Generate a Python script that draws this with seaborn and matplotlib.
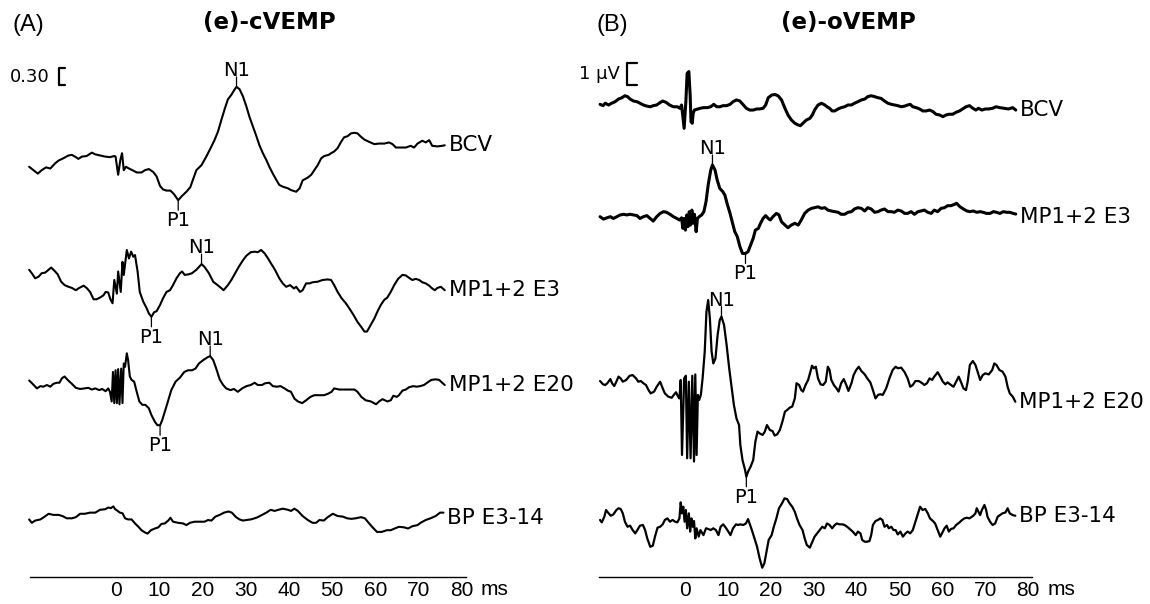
import numpy as np
import pandas as pd
import matplotlib
matplotlib.use("Agg")
import matplotlib.pyplot as plt
import seaborn as sns

# ---------------- data: (time ms, amplitude) ----------------
# Panel A (cVEMP, amplitude in scale-bar units, bar = 0.30)
A_BCV = [(-20.1,-0.12),(-19.1,-0.18),(-18.1,-0.24),(-17.2,-0.18),(-16.2,-0.13),(-15.2,-0.15),(-14.1,-0.06),(-13.3,-0.01),
         (-12.2,0.03),(-11.0,0.08),(-10.2,0.09),(-9.5,0.06),(-8.7,0.02),(-7.9,0.06),(-6.8,0.07),(-5.6,0.13),(-4.8,0.10),
         (-3.7,0.08),(-2.5,0.06),(-1.4,0.05),(-0.4,0.07),(-0.1,0.06),(0.5,-0.26),(1.0,0.0),(1.4,0.12),(1.8,-0.18),(2.3,-0.12),
         (3.0,-0.15),(3.8,-0.18),(4.8,-0.22),(5.9,-0.22),(6.7,-0.18),(7.6,-0.16),(8.6,-0.21),(9.4,-0.29),(10.2,-0.46),
         (10.9,-0.52),(11.7,-0.54),(12.6,-0.54),(13.4,-0.60),(14.4,-0.71),(15.2,-0.64),(16.3,-0.56),(17.2,-0.48),(17.8,-0.35),
         (18.6,-0.18),(19.8,-0.09),(20.9,0.06),(21.7,0.18),(22.8,0.35),(23.6,0.50),(24.4,0.71),(25.2,0.91),(25.9,1.07),
         (26.7,1.15),(27.5,1.25),(27.9,1.29),(28.6,1.25),(29.4,1.12),(30.2,0.94),(30.9,0.76),(31.7,0.59),(32.5,0.42),
         (33.2,0.26),(34.0,0.12),(34.8,0.0),(35.5,-0.12),(36.3,-0.24),(37.1,-0.35),(37.8,-0.44),(38.6,-0.47),(39.8,-0.50),
         (40.5,-0.53),(41.7,-0.56),(42.5,-0.50),(43.2,-0.36),(44.4,-0.31),(45.2,-0.26),(45.9,-0.18),(46.7,-0.09),(47.5,0.03),
         (48.2,0.07),(49.2,0.09),(49.8,0.12),(50.5,0.15),(51.3,0.21),(52.1,0.32),(52.8,0.40),(53.6,0.42),(54.4,0.47),
         (55.2,0.48),(55.9,0.47),(56.7,0.41),(57.5,0.36),(58.6,0.32),(59.8,0.28),(60.9,0.29),(62.1,0.29),(63.2,0.31),
         (64.0,0.28),(64.8,0.22),(65.9,0.22),(67.1,0.22),(68.2,0.25),(69.0,0.22),(69.8,0.29),(70.9,0.34),(71.7,0.31),
         (72.5,0.35),(73.2,0.25),(74.4,0.24),(75.5,0.25),(76.1,0.26)]
A_E3 = [(-20.1,0.21),(-19.5,0.15),(-18.7,0.06),(-17.9,0.09),(-17.2,0.15),(-16.4,0.16),(-15.6,0.21),(-15.0,0.25),(-14.2,0.19),
        (-13.5,0.13),(-12.7,0.0),(-11.9,-0.06),(-11.0,-0.09),(-10.2,-0.11),(-9.3,-0.15),(-8.5,-0.11),(-7.5,-0.07),(-6.8,-0.11),
        (-6.0,-0.18),(-5.2,-0.31),(-4.5,-0.31),(-3.7,-0.28),(-2.9,-0.24),(-2.4,-0.18),(-1.8,-0.19),(-1.3,-0.31),(-0.8,-0.38),
        (-0.4,0.03),(0.2,-0.21),(0.5,0.18),(1.1,-0.18),(1.5,0.35),(1.8,0.12),(2.5,0.56),(3.0,0.41),(3.5,0.53),(4.0,0.44),
        (4.4,0.47),(5.0,0.18),(5.5,-0.18),(6.3,-0.35),(7.1,-0.47),(7.6,-0.56),(8.2,-0.62),(8.8,-0.54),(9.4,-0.52),(10.2,-0.41),
        (10.9,-0.29),(11.7,-0.18),(12.5,-0.15),(13.2,-0.06),(14.0,0.06),(14.8,0.15),(15.3,0.18),(15.9,0.12),(16.8,0.13),
        (17.6,0.15),(18.6,0.21),(19.2,0.26),(19.8,0.31),(20.5,0.26),(21.5,0.15),(22.5,0.0),(23.5,-0.06),(24.0,-0.09),
        (24.9,-0.15),(25.9,-0.06),(26.7,0.03),(27.6,0.15),(28.4,0.26),(29.4,0.38),(30.2,0.46),(31.2,0.52),(32.1,0.53),
        (32.8,0.52),(33.6,0.56),(34.4,0.50),(35.2,0.41),(35.9,0.32),(36.8,0.21),(37.8,0.06),(38.6,-0.03),(39.4,-0.09),
        (40.3,-0.06),(41.2,-0.12),(41.7,-0.09),(42.6,-0.18),(43.2,-0.15),(44.0,-0.03),(44.8,-0.03),(45.5,-0.01),(46.7,0.0),
        (47.8,0.03),(49.0,0.04),(49.8,0.03),(50.5,-0.06),(51.3,-0.18),(52.2,-0.29),(53.2,-0.38),(54.0,-0.47),(55.0,-0.59),
        (55.9,-0.71),(56.7,-0.79),(57.5,-0.88),(58.1,-0.88),(59.0,-0.76),(59.8,-0.65),(60.5,-0.53),(61.3,-0.41),(62.1,-0.32),
        (62.8,-0.28),(63.6,-0.18),(64.4,-0.06),(65.3,0.05),(66.3,0.12),(67.1,0.11),(67.8,0.07),(68.6,0.03),(69.4,0.05),
        (70.2,0.03),(70.9,-0.01),(71.7,-0.03),(72.5,-0.07),(73.2,-0.12),(73.8,-0.15),(74.4,-0.11),(75.2,-0.09),(76.1,-0.15)]
A_E20 = [(-20.1,0.11),(-19.3,0.05),(-18.3,-0.03),(-17.5,0.01),(-16.8,0.0),(-16.0,0.03),(-15.2,0.0),(-14.5,0.05),(-13.7,0.07),
         (-13.1,0.07),(-12.5,0.15),(-11.9,0.18),(-11.2,0.12),(-10.2,0.05),(-9.3,-0.02),(-8.3,-0.04),(-7.3,-0.03),(-6.4,-0.02),
         (-5.6,-0.05),(-4.8,-0.03),(-3.9,-0.06),(-3.2,-0.04),(-2.4,-0.08),(-1.8,-0.03),(-1.4,-0.09),(-1.0,-0.26),(-0.7,0.26),
         (-0.4,-0.29),(-0.1,0.29),(0.2,-0.29),(0.5,0.31),(0.8,-0.31),(1.2,0.32),(1.5,-0.29),(1.8,0.41),(2.1,0.35),(2.5,0.59),
         (2.8,0.47),(3.2,0.18),(3.6,0.12),(4.2,0.09),(4.8,-0.09),(5.4,-0.26),(6.1,-0.32),(6.8,-0.32),(7.6,-0.38),(8.2,-0.50),
         (9.0,-0.62),(9.6,-0.68),(10.2,-0.68),(10.7,-0.59),(11.3,-0.44),(12.1,-0.24),(12.8,-0.06),(13.8,0.09),(14.8,0.16),
         (15.8,0.26),(16.7,0.29),(17.6,0.29),(18.4,0.32),(19.2,0.41),(20.2,0.47),(21.2,0.52),(21.8,0.54),(22.5,0.47),
         (23.2,0.32),(24.0,0.13),(24.8,0.03),(25.5,-0.03),(26.5,-0.06),(27.3,-0.04),(28.2,-0.09),(29.2,-0.03),(30.2,0.01),
         (31.2,0.03),(32.1,0.07),(32.8,0.03),(33.8,0.03),(34.5,0.06),(35.5,0.07),(36.3,0.01),(37.2,0.0),(38.1,0.01),
         (39.0,-0.03),(39.8,-0.07),(40.5,-0.09),(41.3,-0.21),(42.1,-0.26),(43.1,-0.29),(44.0,-0.24),(45.0,-0.18),(45.9,-0.15),
         (47.1,-0.15),(48.2,-0.15),(49.2,-0.12),(49.9,-0.09),(50.5,-0.03),(51.7,-0.05),(52.8,-0.05),(54.0,-0.05),(55.2,-0.05),
         (55.9,-0.09),(56.8,-0.18),(57.8,-0.24),(59.0,-0.26),(60.2,-0.31),(60.9,-0.26),(61.7,-0.22),(62.8,-0.26),(63.6,-0.24),
         (64.2,-0.16),(65.0,-0.18),(65.5,-0.15),(66.3,-0.07),(67.1,-0.05),(67.8,-0.01),(68.8,0.01),(69.6,0.0),(70.4,0.01),
         (71.3,0.03),(72.2,0.08),(73.0,0.12),(74.0,0.13),(74.8,0.12),(75.5,0.07),(76.1,0.03)]
A_BP = [(-20.1,0.01),(-19.5,-0.05),(-18.7,-0.01),(-17.5,0.01),(-16.5,0.06),(-15.6,0.11),(-14.5,0.09),(-13.3,0.09),(-12.4,0.07),
        (-11.4,0.03),(-10.2,0.03),(-9.3,0.05),(-8.3,0.11),(-7.2,0.11),(-6.0,0.13),(-4.8,0.13),(-3.7,0.18),(-2.5,0.19),
        (-1.8,0.22),(-1.2,0.21),(-0.6,0.24),(-0.2,0.19),(0.4,0.16),(0.9,0.13),(1.5,0.12),(2.1,0.03),(2.8,0.01),(3.6,0.01),
        (4.4,-0.06),(5.2,-0.12),(5.9,-0.18),(6.7,-0.22),(7.3,-0.24),(8.1,-0.18),(9.0,-0.15),(9.8,-0.13),(10.5,-0.07),
        (11.3,-0.06),(12.1,-0.01),(12.6,0.04),(13.2,-0.03),(14.4,-0.05),(15.5,-0.06),(16.3,-0.09),(17.1,-0.05),(18.2,-0.03),
        (19.4,-0.03),(20.5,-0.03),(21.3,0.0),(22.1,-0.01),(23.0,0.06),(24.0,0.09),(25.0,0.13),(26.1,0.15),(26.8,0.13),
        (27.8,0.05),(28.6,0.01),(29.4,-0.01),(30.2,0.0),(31.2,0.01),(32.1,0.03),(32.8,0.05),(33.8,0.09),(34.8,0.13),
        (35.8,0.18),(36.7,0.16),(37.6,0.18),(38.6,0.20),(39.8,0.18),(40.5,0.16),(41.3,0.20),(42.1,0.16),(43.2,0.07),
        (44.4,0.0),(45.5,-0.05),(46.3,-0.05),(47.1,0.0),(48.1,-0.01),(49.0,0.05),(50.2,0.11),(51.3,0.07),(52.5,0.06),
        (53.5,0.03),(54.5,0.02),(55.5,0.03),(56.7,0.05),(57.6,0.03),(58.6,-0.06),(59.4,-0.13),(60.4,-0.21),(61.5,-0.21),
        (62.7,-0.18),(63.6,-0.18),(64.5,-0.15),(65.5,-0.12),(66.7,-0.13),(67.6,-0.15),(68.6,-0.11),(69.8,-0.09),(70.5,-0.05),
        (71.7,0.0),(72.8,0.03),(74.0,0.07),(75.0,0.13),(75.8,0.13)]

# Panel B (oVEMP, amplitude in microvolts, bar = 1 uV)
B_BCV = [(-19.8,0.03),(-19.1,-0.03),(-18.6,0.08),(-17.8,0.0),(-17.1,0.08),(-16.3,0.15),(-15.5,0.27),(-14.7,0.33),(-14.0,0.42),
         (-13.4,0.38),(-12.8,0.27),(-12.0,0.18),(-11.2,0.15),(-10.5,0.08),(-9.7,0.0),(-8.9,-0.05),(-8.1,-0.08),(-7.4,-0.03),
         (-6.6,0.0),(-5.8,0.11),(-5.2,0.18),(-4.4,0.12),(-3.6,0.0),(-2.7,-0.08),(-1.8,-0.08),(-1.2,-0.15),(-0.8,0.0),
         (-0.5,-0.53),(-0.2,-1.06),(0.2,0.15),(0.5,1.44),(0.9,1.52),(1.2,0.45),(1.4,-0.76),(1.7,-0.83),(1.9,-0.38),(2.2,-0.23),
         (2.7,-0.20),(3.5,-0.15),(4.3,-0.12),(5.2,-0.12),(6.0,-0.08),(6.7,0.03),(7.4,-0.08),(8.1,-0.08),(8.9,-0.03),(9.7,-0.03),
         (10.5,0.03),(11.2,0.15),(12.0,0.23),(12.8,0.18),(13.6,0.0),(14.3,-0.15),(15.1,-0.23),(15.9,-0.23),(16.7,-0.18),
         (17.4,-0.18),(18.2,-0.15),(18.8,0.0),(19.4,0.33),(20.2,0.45),(20.9,0.48),(21.7,0.42),(22.5,0.23),(23.3,-0.15),
         (24.0,-0.45),(24.8,-0.68),(25.6,-0.83),(26.4,-0.91),(26.9,-0.94),(27.5,-0.83),(28.3,-0.68),(29.1,-0.61),(29.7,-0.45),
         (30.2,-0.23),(31.0,0.0),(31.8,0.08),(32.6,0.0),(33.1,-0.08),(33.7,-0.15),(34.3,-0.27),(34.9,-0.27),(35.7,-0.18),
         (36.4,-0.12),(37.2,-0.08),(38.0,0.0),(38.8,0.0),(39.5,0.08),(40.3,0.15),(41.1,0.23),(41.9,0.27),(42.6,0.38),
         (43.4,0.42),(44.2,0.38),(45.0,0.33),(45.7,0.30),(46.5,0.18),(47.3,0.08),(48.1,0.03),(48.8,0.0),(49.6,-0.03),
         (50.4,-0.08),(51.2,-0.05),(51.9,0.0),(52.5,0.03),(53.1,-0.08),(53.9,-0.12),(54.7,-0.18),(55.4,-0.27),(56.2,-0.27),
         (57.0,-0.23),(57.8,-0.30),(58.5,-0.42),(59.3,-0.45),(60.1,-0.53),(60.9,-0.45),(61.6,-0.42),(62.4,-0.42),(63.2,-0.33),
         (64.0,-0.27),(64.7,-0.18),(65.5,-0.08),(66.3,-0.03),(67.1,-0.15),(67.8,-0.23),(68.4,-0.15),(69.2,-0.23),(70.0,-0.18),
         (70.8,-0.18),(71.7,-0.15),(72.5,-0.08),(73.4,-0.12),(74.4,-0.15),(75.4,-0.18),(76.4,-0.12),(77.1,-0.23)]
B_E3 = [(-19.8,0.0),(-19.0,-0.11),(-18.2,-0.05),(-17.4,0.0),(-16.7,-0.08),(-15.9,0.0),(-15.1,0.08),(-14.3,0.11),(-13.6,0.08),
        (-12.8,0.11),(-12.0,0.08),(-11.2,0.05),(-10.5,-0.08),(-9.7,0.0),(-8.9,0.05),(-8.1,-0.08),(-7.4,-0.20),(-6.6,0.0),
        (-5.8,0.15),(-5.0,0.23),(-4.3,0.20),(-3.5,0.11),(-2.7,0.0),(-1.9,-0.08),(-1.3,-0.15),(-0.8,-0.05),(-0.5,-0.53),
        (-0.2,-0.08),(0.1,-0.61),(0.4,0.08),(0.7,-0.45),(1.0,0.23),(1.3,-0.38),(1.6,0.30),(1.9,-0.30),(2.2,0.11),(2.6,-0.68),
        (2.9,-0.08),(3.3,0.0),(3.9,0.08),(4.4,0.23),(4.9,0.68),(5.4,1.44),(6.0,2.12),(6.4,2.35),(7.0,2.12),(7.5,1.67),
        (8.1,1.29),(8.8,1.14),(9.3,0.98),(9.8,0.61),(10.5,0.15),(11.1,-0.30),(11.6,-0.68),(12.2,-0.91),(12.8,-1.36),
        (13.4,-1.67),(14.1,-1.67),(14.7,-1.59),(15.3,-1.29),(15.9,-0.98),(16.4,-0.61),(17.1,-0.53),(17.6,-0.30),(18.2,-0.08),
        (18.8,0.05),(19.4,-0.08),(19.9,-0.15),(20.5,0.0),(21.3,0.15),(21.9,0.08),(22.5,-0.23),(23.3,-0.38),(24.0,-0.50),
        (24.8,-0.38),(25.6,-0.30),(26.4,-0.38),(27.1,-0.15),(27.9,0.15),(28.7,0.30),(29.5,0.38),(30.2,0.41),(31.0,0.45),
        (31.8,0.38),(32.6,0.41),(33.3,0.30),(34.1,0.26),(34.9,0.23),(35.7,0.20),(36.4,0.11),(37.2,0.11),(38.0,0.20),
        (38.8,0.23),(39.5,0.35),(40.3,0.41),(41.1,0.38),(41.9,0.26),(42.6,0.41),(43.4,0.35),(44.2,0.20),(45.0,0.23),
        (45.7,0.30),(46.5,0.35),(47.3,0.23),(48.1,0.23),(48.8,0.20),(49.6,0.30),(50.4,0.26),(51.2,0.15),(51.9,0.15),
        (52.7,0.23),(53.5,0.11),(54.3,0.23),(55.0,0.26),(55.8,0.30),(56.6,0.20),(57.4,0.15),(58.1,0.30),(58.9,0.23),
        (59.7,0.38),(60.5,0.41),(61.2,0.50),(62.0,0.50),(62.8,0.56),(63.3,0.61),(64.1,0.45),(64.9,0.35),(65.7,0.26),
        (66.4,0.23),(67.2,0.26),(68.0,0.20),(68.8,0.23),(69.5,0.20),(70.3,0.15),(71.1,0.15),(71.9,0.23),(72.6,0.20),
        (73.4,0.15),(74.2,0.23),(75.0,0.20),(75.7,0.20),(76.5,0.15),(77.1,0.12)]
B_E20 = [(-19.8,0.18),(-19.1,0.03),(-18.6,0.0),(-18.1,0.08),(-17.4,0.27),(-17.0,0.08),(-16.5,-0.05),(-16.0,0.15),(-15.5,0.38),
         (-15.0,0.30),(-14.5,0.15),(-13.7,0.23),(-12.9,0.42),(-12.2,0.45),(-11.4,0.30),(-10.9,0.15),(-10.3,0.18),(-9.7,0.08),
         (-9.1,0.0),(-8.5,-0.23),(-8.0,-0.38),(-7.2,-0.30),(-6.6,-0.08),(-5.8,0.15),(-5.2,-0.15),(-4.7,-0.38),(-3.9,-0.53),
         (-3.1,-0.58),(-2.6,-0.45),(-2.1,-0.33),(-1.6,-0.53),(-1.3,-0.61),(-1.0,0.23),(-0.7,-3.18),(-0.2,0.30),(0.2,0.42),
         (0.5,-3.33),(0.9,0.15),(1.3,-3.33),(1.7,0.42),(2.1,-3.48),(2.4,0.48),(2.7,-3.18),(3.0,-0.45),(3.3,-0.68),(3.7,-0.45),
         (4.1,0.30),(4.6,1.52),(5.0,3.33),(5.4,3.86),(5.8,3.03),(6.2,1.52),(6.6,0.98),(7.1,1.21),(7.6,2.27),(8.1,2.95),
         (8.5,3.11),(9.1,2.73),(9.7,1.82),(10.3,0.76),(10.9,-0.15),(11.4,-0.91),(12.0,-1.52),(12.6,-1.82),(12.9,-2.73),
         (13.4,-3.41),(14.0,-3.86),(14.3,-4.17),(14.7,-3.94),(15.3,-3.71),(15.9,-3.41),(16.4,-2.58),(16.9,-2.12),(17.4,-2.20),
         (18.1,-2.27),(18.6,-2.12),(19.1,-1.82),(19.8,-2.05),(20.4,-2.09),(20.9,-2.30),(21.5,-2.24),(22.1,-2.05),(22.7,-1.67),
         (23.3,-1.21),(23.8,-1.14),(24.4,-1.03),(25.0,-0.98),(25.6,-0.61),(26.0,0.08),(26.6,0.0),(27.1,-0.23),(27.5,-0.30),
         (28.1,0.0),(28.7,0.23),(29.2,0.58),(29.6,0.88),(30.0,0.76),(30.5,0.83),(31.0,0.30),(31.6,0.03),(32.2,0.0),(32.8,0.15),
         (33.3,0.83),(33.7,0.68),(34.1,0.23),(34.7,0.0),(35.3,-0.15),(35.8,-0.30),(36.4,0.08),(37.0,0.27),(37.6,0.0),
         (38.1,-0.27),(38.8,0.08),(39.3,0.45),(39.9,0.68),(40.5,0.83),(41.1,0.64),(41.9,0.48),(42.6,0.27),(43.2,0.12),
         (43.8,-0.23),(44.4,-0.61),(45.0,-0.45),(45.5,-0.42),(46.1,-0.45),(46.9,-0.15),(47.7,0.33),(48.4,0.68),(49.1,0.83),
         (49.6,0.76),(50.4,0.79),(51.2,0.58),(51.9,0.30),(52.5,-0.08),(53.1,0.0),(53.7,0.18),(54.5,0.18),(55.3,0.08),
         (55.8,0.0),(56.4,0.08),(57.0,0.30),(57.6,0.23),(58.1,0.38),(58.9,0.58),(59.5,0.38),(60.1,0.15),(60.7,0.03),
         (61.2,0.12),(62.0,0.0),(62.6,-0.08),(63.2,0.15),(63.8,0.38),(64.3,0.15),(64.9,-0.15),(65.5,-0.23),(65.9,0.15),
         (66.4,0.91),(67.1,1.09),(67.7,0.91),(68.2,0.61),(68.8,0.23),(69.4,0.45),(70.0,0.53),(70.8,0.48),(71.6,0.68),
         (72.1,0.98),(72.6,0.91),(73.3,0.68),(74.0,0.61),(74.7,0.38),(75.2,-0.08),(75.7,-0.38),(76.4,-0.53),(77.0,-0.76)]
B_BP = [(-19.8,0.08),(-19.4,-0.03),(-18.8,0.23),(-18.4,0.53),(-17.8,0.38),(-17.3,0.27),(-16.7,0.33),(-16.0,0.53),(-15.5,0.61),
        (-15.0,0.58),(-14.5,0.38),(-14.0,0.0),(-13.4,-0.23),(-12.8,-0.18),(-12.2,-0.38),(-11.6,-0.53),(-11.1,-0.38),
        (-10.5,-0.18),(-9.8,-0.15),(-9.3,-0.38),(-8.8,-0.76),(-8.1,-1.14),(-7.5,-1.09),(-7.0,-0.68),(-6.4,-0.27),(-5.8,-0.23),
        (-5.2,-0.12),(-4.7,0.08),(-4.1,0.15),(-3.5,0.0),(-2.9,0.08),(-2.3,0.0),(-1.8,-0.03),(-1.3,0.15),(-1.0,0.88),
        (-0.7,0.38),(-0.4,0.68),(-0.1,0.0),(0.2,0.53),(0.5,-0.30),(0.9,0.38),(1.2,-0.45),(1.5,0.15),(1.8,-0.23),(2.1,0.03),
        (2.4,-0.76),(2.7,-0.30),(3.2,-0.68),(3.6,-0.38),(4.3,-0.61),(4.9,-0.30),(5.4,-0.33),(6.0,-0.38),(6.6,-0.30),
        (7.2,-0.38),(7.8,-0.61),(8.3,-0.23),(8.9,-0.12),(9.5,-0.27),(10.1,-0.45),(10.6,-0.61),(11.2,-0.30),(11.9,-0.12),
        (12.4,-0.15),(12.9,-0.12),(13.6,-0.15),(14.2,-0.08),(14.7,0.12),(15.3,-0.23),(15.7,-0.45),(16.3,-0.83),(16.8,-1.14),
        (17.4,-1.67),(18.0,-2.09),(18.5,-1.89),(19.0,-1.36),(19.5,-0.83),(20.2,-0.61),(20.7,-0.23),(21.3,0.15),(21.9,0.61),
        (22.6,0.83),(23.2,1.06),(23.8,1.03),(24.4,0.83),(25.0,0.68),(25.6,0.45),(26.1,0.15),(26.7,-0.15),(27.4,-0.38),
        (27.9,-0.76),(28.4,-1.06),(29.1,-1.18),(29.7,-0.91),(30.2,-0.68),(30.8,-0.53),(31.4,-0.38),(32.0,-0.23),(32.6,-0.30),
        (33.1,-0.08),(33.7,-0.15),(34.3,-0.30),(34.9,-0.15),(35.4,-0.08),(36.0,-0.12),(36.7,-0.12),(37.2,-0.15),(37.8,-0.23),
        (38.4,-0.33),(39.1,-0.45),(39.8,-0.61),(40.3,-0.45),(40.9,-0.53),(41.3,-0.83),(41.9,-0.91),(42.4,-0.91),(43.0,-0.88),
        (43.4,-0.61),(43.8,-0.15),(44.4,0.03),(45.0,0.08),(45.5,0.15),(46.0,0.08),(46.5,-0.23),(47.1,-0.15),(47.5,-0.30),
        (48.1,-0.23),(48.6,-0.38),(49.1,-0.38),(49.6,-0.58),(50.2,-0.45),(50.8,-0.68),(51.4,-0.53),(51.9,-0.45),(52.5,-0.53),
        (53.1,-0.38),(53.7,0.0),(54.3,0.38),(54.8,0.68),(55.4,0.53),(56.0,0.58),(56.6,0.38),(57.1,0.15),(57.8,0.03),
        (58.3,-0.08),(58.9,-0.38),(59.5,-0.68),(59.9,-0.53),(60.5,-0.30),(61.0,-0.18),(61.5,-0.45),(62.0,-0.33),(62.6,-0.30),
        (63.2,-0.15),(64.0,-0.03),(64.6,0.08),(65.1,0.15),(65.7,0.18),(66.3,0.15),(66.9,0.23),(67.2,0.27),(67.7,0.38),
        (68.0,0.61),(68.4,0.45),(68.8,0.30),(69.2,0.53),(69.8,0.76),(70.2,0.53),(70.5,0.23),(71.1,0.0),(71.7,-0.15),
        (72.3,-0.08),(72.9,0.23),(73.4,0.30),(74.0,0.38),(74.7,0.42),(75.2,0.61),(75.7,0.38),(76.4,0.30),(77.0,0.27)]

trace_names = ["BCV", "MP1+2 E3", "MP1+2 E20", "BP E3-14"]
tick_values = [0, 10, 20, 30, 40, 50, 60, 70, 80]
tick_labels = ["0", "10", "20", "30", "40", "50", "60", "70", "80"]
scale_A, scale_A_label = 0.30, "0.30"
scale_B, scale_B_label = 1.0, "1 \u00b5V"
titles = ["(e)-cVEMP", "(e)-oVEMP"]
panel_tags = ["(A)", "(B)"]
# peak markers: (trace index, label, time ms, direction)
peaks_A = [(0, "P1", 14.4, -1), (0, "N1", 27.9, 1), (1, "P1", 8.2, -1), (1, "N1", 19.8, 1),
           (2, "P1", 9.9, -1), (2, "N1", 21.8, 1)]
peaks_B = [(1, "N1", 6.4, 1), (1, "P1", 14.1, -1), (2, "N1", 8.5, 1), (2, "P1", 14.3, -1)]

# ---------------- layout (pixels of the 1150x604 canvas) ----------------
W, H = 1150, 604
AX_TOP, AX_BOT = 40, 577
PPU_A = 170 / 3.0     # pixels per unit, panel A
PPU_B = 22.0          # pixels per microvolt, panel B
rows_A_px = [160, 281.7, 386.7, 520]
rows_B_px = [105, 216.7, 385, 521.7]
label_shift_px_A = [0, 0, 0, -5]
label_shift_px_B = [0, -3, 0, 0]
lw_A = [1.5, 1.5, 1.5, 1.5]
lw_B = [2.2, 2.2, 1.6, 1.6]

sns.set_theme(style="white")
plt.rcParams["font.family"] = ["DejaVu Sans"]
plt.rcParams["text.color"] = "black"
plt.rcParams["xtick.color"] = "black"

fig = plt.figure(figsize=(W / 100, H / 100), dpi=100)


def make_axes(left_px, right_px):
    return fig.add_axes([left_px / W, 1 - AX_BOT / H, (right_px - left_px) / W, (AX_BOT - AX_TOP) / H])


axA = make_axes(116 - 21 * 4.32, 116 + 85 * 4.32)
axB = make_axes(685 - 21 * 4.29, 685 + 85 * 4.29)

panels = [
    (axA, [A_BCV, A_E3, A_E20, A_BP], rows_A_px, PPU_A, lw_A, peaks_A, scale_A, scale_A_label, (-13.3, 8.68), 1.5, -15.3, label_shift_px_A),
    (axB, [B_BCV, B_E3, B_E20, B_BP], rows_B_px, PPU_B, lw_B, peaks_B, scale_B, scale_B_label, (-13.5, 22.36), 2.3, -15.2, label_shift_px_B),
]

for ax, traces, rows_px, ppu, lws, peaks, sc, sc_lab, sc_pos, sc_tick, sc_txt_x, lshift in panels:
    ax.set_xlim(-21, 85)
    ax.set_ylim(0, (AX_BOT - AX_TOP) / ppu)
    offsets = [(AX_BOT - r) / ppu for r in rows_px]
    arrays = []
    for i, (tr, name) in enumerate(zip(traces, trace_names)):
        arr = np.array(tr, dtype=float)
        arrays.append(arr)
        df = pd.DataFrame({"t": arr[:, 0], "y": arr[:, 1] + offsets[i]})
        sns.lineplot(data=df, x="t", y="y", ax=ax, color="black", lw=lws[i],
                     estimator=None, sort=False, legend=False)
        ax.annotate(name, xy=(arr[-1, 0], arr[-1, 1] + offsets[i]), xytext=(4, lshift[i]),
                    textcoords="offset pixels", ha="left", va="center", fontsize=15.5, color="black",
                    annotation_clip=False)
    # peak markers
    for idx, lab, tp, d in peaks:
        arr = arrays[idx]
        j = int(np.argmin(np.abs(arr[:, 0] - tp)))
        yv = arr[j, 1] + offsets[idx]
        xv = arr[j, 0]
        ax.annotate("", xy=(xv, yv), xytext=(0, 10 * d), textcoords="offset pixels",
                    arrowprops=dict(arrowstyle="-", color="black", lw=0.9, shrinkA=0, shrinkB=0))
        ax.annotate(lab, xy=(xv, yv), xytext=(0, 11 * d), textcoords="offset pixels",
                    ha="center", va="baseline" if d > 0 else "top", fontsize=14, color="black")
    # scale bar
    sx, sy = sc_pos
    bar = pd.DataFrame({"t": [sx + sc_tick, sx, sx, sx + sc_tick], "y": [sy, sy, sy + sc, sy + sc]})
    sns.lineplot(data=bar, x="t", y="y", ax=ax, color="black", lw=1.6, estimator=None, sort=False, legend=False)
    ax.text(sc_txt_x, sy + sc / 2, sc_lab, ha="right", va="center", fontsize=13, color="black")
    # axis
    for s in ["left", "top", "right"]:
        ax.spines[s].set_visible(False)
    ax.spines["bottom"].set_bounds(-20, 81)
    ax.spines["bottom"].set_color("black")
    ax.spines["bottom"].set_linewidth(1.0)
    ax.set_yticks([])
    ax.set_xticks(tick_values)
    ax.set_xticklabels(tick_labels, fontfamily="Liberation Sans", fontsize=15, color="black")
    ax.tick_params(axis="x", length=0, pad=3, colors="black")
    ax.set_xlabel("")
    ax.set_ylabel("")
    ax.patch.set_alpha(0)
    ax.annotate("ms", xy=(80, 0), xycoords="data", xytext=(19, -3), textcoords="offset pixels",
                ha="left", va="top", fontfamily="Liberation Sans", fontsize=15, color="black",
                annotation_clip=False)

fig.text(269 / W, 1 - 23 / H, titles[0], ha="center", va="center", fontsize=16.5, fontweight="bold", color="black")
fig.text(848 / W, 1 - 23 / H, titles[1], ha="center", va="center", fontsize=16.5, fontweight="bold", color="black")
fig.text(12 / W, 1 - 25 / H, panel_tags[0], ha="left", va="center", fontsize=17, fontfamily="Liberation Sans", color="black")
fig.text(597 / W, 1 - 25 / H, panel_tags[1], ha="left", va="center", fontsize=17, fontfamily="Liberation Sans", color="black")

fig.savefig("out.png", dpi=100, facecolor="white")
